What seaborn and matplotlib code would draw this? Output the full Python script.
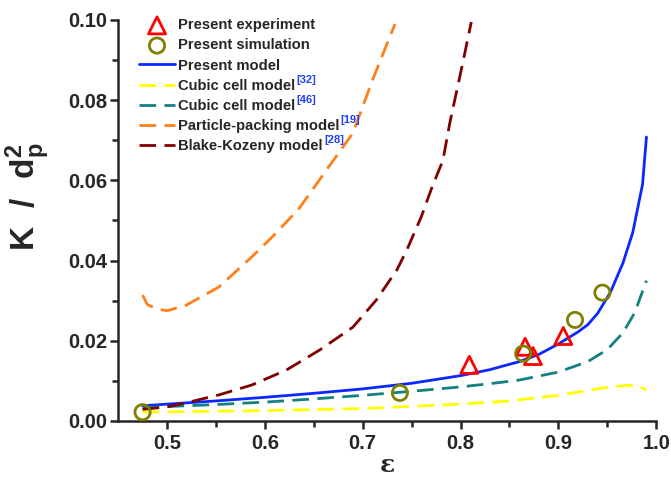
import matplotlib
matplotlib.use("Agg")
import matplotlib.pyplot as plt
import seaborn as sns

# data
eps_exp = [0.809, 0.866, 0.874, 0.905]
k_exp = [0.0140, 0.0185, 0.0162, 0.0212]

eps_sim = [0.475, 0.738, 0.864, 0.917, 0.945]
k_sim = [0.0022, 0.0070, 0.0168, 0.0252, 0.0320]

eps_model = [0.475, 0.5, 0.55, 0.6, 0.65, 0.7, 0.75, 0.8, 0.83, 0.86, 0.88,
             0.9, 0.92, 0.93, 0.94, 0.953, 0.966, 0.976, 0.986, 0.99]
k_model = [0.0038, 0.0042, 0.0050, 0.0059, 0.0069, 0.0080, 0.0094, 0.0113, 0.0128,
           0.0148, 0.0166, 0.0192, 0.0222, 0.0240, 0.0268, 0.0320, 0.0394, 0.0470,
           0.0590, 0.0708]

eps_cc46 = [0.475, 0.5, 0.55, 0.6, 0.65, 0.7, 0.75, 0.8, 0.83, 0.86, 0.9, 0.93,
            0.95, 0.966, 0.978, 0.99]
k_cc46 = [0.0033, 0.0036, 0.0041, 0.0047, 0.0055, 0.0064, 0.0074, 0.0085, 0.0093,
          0.0102, 0.0122, 0.0148, 0.0178, 0.0220, 0.0270, 0.0350]

eps_cc32 = [0.475, 0.5, 0.6, 0.7, 0.8, 0.85, 0.9, 0.93, 0.95, 0.97, 0.98, 0.99]
k_cc32 = [0.0022, 0.0023, 0.0026, 0.0031, 0.0042, 0.0050, 0.0064, 0.0076, 0.0084,
          0.0089, 0.0088, 0.0078]

eps_pp = [0.475, 0.48, 0.49, 0.5, 0.519, 0.553, 0.587, 0.61, 0.635, 0.663, 0.69,
          0.71, 0.733]
k_pp = [0.0314, 0.0290, 0.0279, 0.0275, 0.0288, 0.0334, 0.0410, 0.0465, 0.0530,
        0.0626, 0.0718, 0.0850, 0.0990]

eps_bk = [0.475, 0.5, 0.519, 0.553, 0.587, 0.622, 0.656, 0.69, 0.714, 0.735, 0.745,
          0.76, 0.771, 0.782, 0.789, 0.802, 0.811]
k_bk = [0.0029, 0.0035, 0.0045, 0.0065, 0.0090, 0.0127, 0.0177, 0.0234, 0.0302,
        0.0377, 0.0426, 0.0510, 0.0584, 0.0650, 0.0743, 0.0890, 0.0995]

x_ticks = [0.5, 0.6, 0.7, 0.8, 0.9, 1.0]
y_ticks = [0.0, 0.02, 0.04, 0.06, 0.08, 0.10]

lines = [
    ("Present model", eps_model, k_model, "#0a28ff", "-"),
    ("Cubic cell model", eps_cc32, k_cc32, "#ffff00", (0, (6, 3))),
    ("Cubic cell model", eps_cc46, k_cc46, "#158080", (0, (6, 3))),
    ("Particle-packing model", eps_pp, k_pp, "#ff7f1a", (0, (6, 3))),
    ("Blake-Kozeny model", eps_bk, k_bk, "#800000", (0, (6, 3))),
]
refs = [None, "[32]", "[46]", "[19]", "[28]"]

sns.set_style("ticks")
plt.rcParams.update({
    "font.family": ["Liberation Sans", "DejaVu Sans"],
    "font.weight": "bold",
    "mathtext.fontset": "custom",
    "mathtext.rm": "Liberation Sans:bold",
    "mathtext.bf": "Liberation Sans:bold",
    "mathtext.it": "Liberation Sans:bold",
})

fig = plt.figure(figsize=(6.71, 4.82), dpi=100)
ax = fig.add_axes([0.176, 0.1266, 0.802, 0.832])

sns.scatterplot(x=eps_exp, y=k_exp, ax=ax, marker="^", s=150, facecolor="none",
                edgecolor="#ff0000", linewidth=2, label="Present experiment", zorder=5)
sns.scatterplot(x=eps_sim, y=k_sim, ax=ax, marker="o", s=120, facecolor="none",
                edgecolor="#808000", linewidth=2, label="Present simulation", zorder=5)
for name, xs, ys, col, ls in lines:
    sns.lineplot(x=xs, y=ys, ax=ax, color=col, linestyle=ls, linewidth=2,
                 label=name, sort=False, estimator=None)

ax.set_xlim(0.45, 1.0)
ax.set_ylim(0.0, 0.10)
ax.set_xticks(x_ticks)
ax.set_yticks(y_ticks)
ax.set_xticks([0.55, 0.65, 0.75, 0.85, 0.95], minor=True)
ax.set_yticks([0.01, 0.03, 0.05, 0.07, 0.09], minor=True)
ax.set_xticklabels([f"{v:.1f}" for v in x_ticks])
ax.set_yticklabels([f"{v:.2f}" for v in y_ticks])
ax.tick_params(which="major", length=6, width=1.8, labelsize=14.5, direction="out")
ax.tick_params(axis="y", which="major", pad=2)
ax.tick_params(which="minor", length=4, width=1.8, direction="out")
for t in ax.get_xticklabels() + ax.get_yticklabels():
    t.set_fontweight("bold")
for side in ["left", "bottom"]:
    ax.spines[side].set_linewidth(1.8)
sns.despine(ax=ax)

ax.set_xlabel("ε", fontsize=18, fontweight="bold", family=["DejaVu Serif"], labelpad=0)
ax.set_ylabel(r"$\mathbf{K\ \ /\ \ d_p^2}$", fontsize=24)
ax.yaxis.set_label_coords(-0.122, 0.56)

leg = ax.legend(loc="upper left", bbox_to_anchor=(0.019, 1.03), frameon=False,
                fontsize=10.6, handlelength=2.5, handletextpad=0.2, labelspacing=0.42,
                borderaxespad=0.3)
for t in leg.get_texts():
    t.set_fontweight("bold")

fig.canvas.draw()
inv = fig.transFigure.inverted()
texts = leg.get_texts()
for t, ref in zip(texts[2:], refs):
    if ref is None:
        continue
    bb = t.get_window_extent()
    x0, y0 = inv.transform((bb.x1 + 1, bb.y1 - 6))
    fig.text(x0, y0, ref, color="#1f3fff", fontsize=8, fontweight="bold", va="bottom")

fig.savefig("out.png", dpi=100, facecolor="white")
